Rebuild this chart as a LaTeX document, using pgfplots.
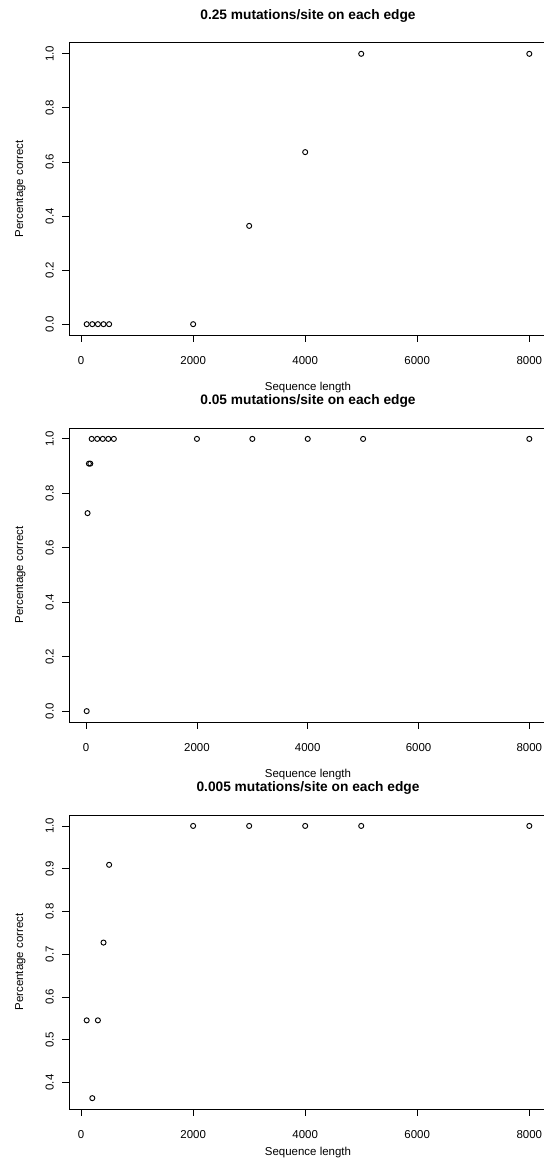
\documentclass[border=0pt]{standalone}
\usepackage{fontspec}
\setmainfont{Liberation Sans}
\usepackage{pgfplots}
\pgfplotsset{compat=1.18}

% 1 px of the reference = 0.75pt
\pgfplotsset{
  rplot/.style={
    scale only axis,
    width=358.5pt,
    tick align=outside,
    xtick pos=lower, ytick pos=left,
    major tick length=5pt,
    tick style={black, line width=0.6pt},
    axis line style={black, line width=0.75pt},
    font=\fontsize{8.6pt}{10pt}\selectfont,
    /pgf/number format/assume math mode=true,
    /pgf/number format/set thousands separator={},
    xtick={0,2000,4000,6000,8000},
    xticklabel shift=7.5pt,
    yticklabel shift=3pt,
    yticklabel style={rotate=90, anchor=south,
      /pgf/number format/.cd, fixed, fixed zerofill, precision=1},
    title style={font=\fontsize{10.3pt}{12pt}\selectfont\bfseries,
      at={(axis description cs:0.5,1)}, anchor=center, yshift=14.25pt},
    xlabel style={at={(axis description cs:0.5,0)}, anchor=center, yshift=-39.5pt},
    xlabel={Sequence length},
  },
  rmarks/.style={only marks, mark=o, black, mark size=1.9pt,
    mark options={line width=0.7pt}},
}

\begin{document}
\begin{tikzpicture}
\useasboundingbox (0,0) rectangle (407.25pt,-876.75pt);

\begin{axis}[rplot, name=p1, at={(51.75pt,-251.25pt)}, anchor=south west,
  height=219pt,
  xmin=-216, xmax=8316, ymin=-0.04, ymax=1.04,
  ytick={0,0.2,0.4,0.6,0.8,1.0},
  title={0.25 mutations/site on each edge}]
\addplot[rmarks] coordinates {
  (100,0) (200,0) (300,0) (400,0) (500,0) (2000,0)
  (3000,0.3636) (4000,0.6364) (5000,1) (8000,1)};
\end{axis}
\node[rotate=90, font=\fontsize{8.6pt}{10pt}\selectfont] at ([xshift=-36.4pt]p1.west) {Percentage correct};

\begin{axis}[rplot, name=p2, at={(51.75pt,-541.5pt)}, anchor=south west,
  height=220.5pt,
  xmin=-309.6, xmax=8319.6, ymin=-0.04, ymax=1.04,
  ytick={0,0.2,0.4,0.6,0.8,1.0},
  title={0.05 mutations/site on each edge}]
\addplot[rmarks] coordinates {
  (10,0) (25,0.7273) (50,0.9091) (75,0.9091)
  (100,1) (200,1) (300,1) (400,1) (500,1)
  (2000,1) (3000,1) (4000,1) (5000,1) (8000,1)};
\end{axis}
\node[rotate=90, font=\fontsize{8.6pt}{10pt}\selectfont] at ([xshift=-36.4pt]p2.west) {Percentage correct};

\begin{axis}[rplot, name=p3, at={(51.75pt,-831.75pt)}, anchor=south west,
  height=220.5pt,
  xmin=-216, xmax=8316, ymin=0.3382, ymax=1.0255,
  ytick={0.4,0.5,0.6,0.7,0.8,0.9,1.0},
  xlabel style={yshift=7pt},
  title={0.005 mutations/site on each edge}]
\addplot[rmarks] coordinates {
  (100,0.5455) (200,0.3636) (300,0.5455) (400,0.7273) (500,0.9091)
  (2000,1) (3000,1) (4000,1) (5000,1) (8000,1)};
\end{axis}
\node[rotate=90, font=\fontsize{8.6pt}{10pt}\selectfont] at ([xshift=-36.4pt]p3.west) {Percentage correct};
\end{tikzpicture}
\end{document}
